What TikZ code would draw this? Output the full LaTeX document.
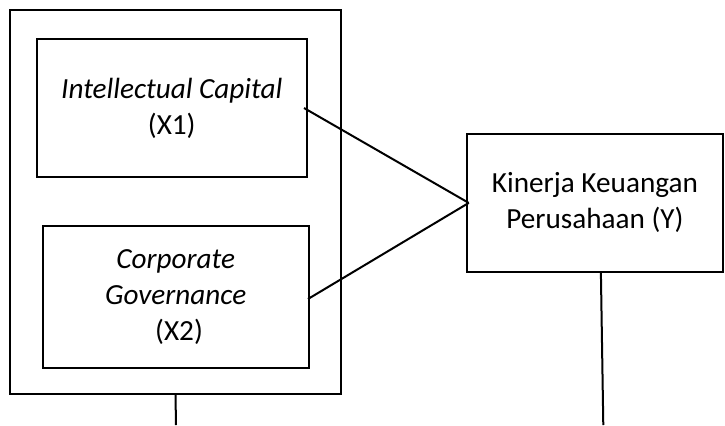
\documentclass[tikz,border=0pt]{standalone}
\usepackage{fontspec}
\setmainfont{Carlito}
\begin{document}
\begin{tikzpicture}[x=0.5pt,y=-0.5pt,
  box/.style={draw,line width=1pt,rectangle,inner sep=0pt,align=center,font=\fontsize{14.6}{18}\selectfont},
  conn/.style={line width=1pt}]
\useasboundingbox (0,0) rectangle (725,425);
\node[box,minimum width=165.5pt,minimum height=192.25pt] (outer) at (175.5,201.75) {};
\node[box,minimum width=135.25pt,minimum height=69pt] (x1) at (171.75,108) {\textit{Intellectual Capital}\\(X1)};
\node[box,minimum width=133.25pt,minimum height=71pt] (x2) at (175.75,297) {\textit{Corporate}\\\textit{Governance}\\\ (X2)};
\node[box,minimum width=128.15pt,minimum height=68.85pt] (y) at (594.9,202.9) {Kinerja Keuangan\\Perusahaan (Y)};
\coordinate (oend) at (176,425);
\coordinate (yend) at (603.3,425);
\draw[conn] ([xshift=-2pt]x1.east) -- ([xshift=1.5pt]y.west);
\draw[conn] ([xshift=-1pt,yshift=-1pt]x2.east) -- ([xshift=1.5pt]y.west);
\draw[conn] (outer.south) -- (oend);
\draw[conn] ([xshift=3pt]y.south) -- (yend);
\end{tikzpicture}
\end{document}
